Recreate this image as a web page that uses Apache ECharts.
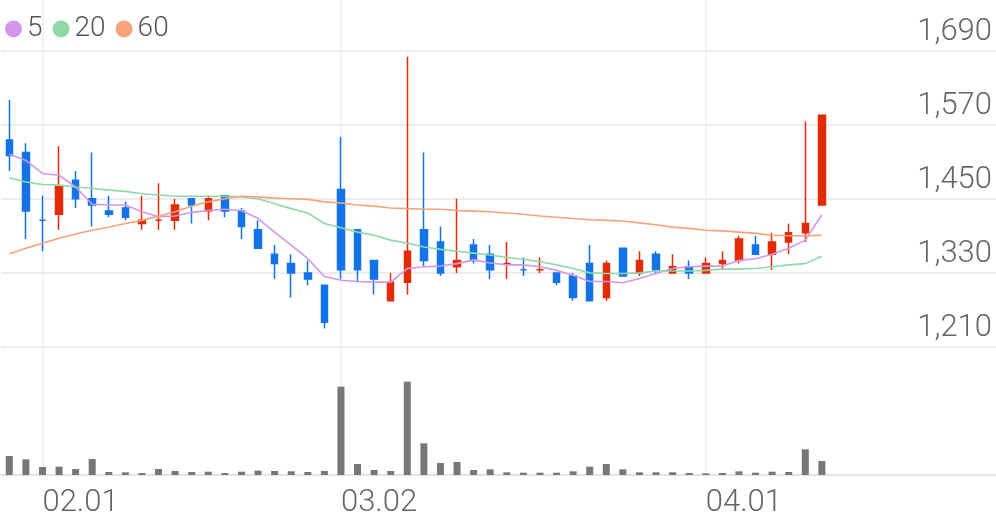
<!DOCTYPE html>
<html>
<head>
<meta charset="utf-8">
<script src="https://cdn.jsdelivr.net/npm/echarts@6/dist/echarts.min.js"></script>
<style>
html,body{margin:0;padding:0;background:#fff;}
#chart{width:996px;height:519px;}
</style>
</head>
<body>
<div id="chart"></div>
<script>
// Trading days (MM.DD); last 10 are empty future slots
const dates = ["01.28","01.29","02.01","02.02","02.03","02.04","02.05","02.08","02.09","02.10",
  "02.15","02.16","02.17","02.18","02.19","02.22","02.23","02.24","02.25","02.26",
  "03.02","03.03","03.04","03.05","03.08","03.09","03.10","03.11","03.12","03.15",
  "03.16","03.17","03.18","03.19","03.22","03.23","03.24","03.25","03.26","03.29",
  "03.30","03.31","04.01","04.02","04.05","04.06","04.07","04.08","04.09","04.12",
  "04.13","04.14","04.15","04.16","04.19","04.20","04.21","04.22","04.23","04.26"];

const opens  = [1545,1525,1415,1425,1480,1450,1430,1435,1410,1415,1415,1450,1430,1455,1430,1400,1360,1345,1330,1310,
                1465,1400,1350,1285,1315,1400,1380,1340,1375,1360,1345,1335,1335,1330,1325,1345,1290,1370,1330,1360,
                1330,1340,1330,1345,1350,1375,1360,1380,1395,1440];
const closes = [1520,1430,1415,1470,1450,1440,1425,1420,1415,1415,1440,1440,1450,1430,1405,1370,1345,1330,1320,1250,
                1335,1335,1320,1315,1365,1350,1330,1350,1350,1335,1345,1335,1335,1315,1290,1285,1345,1325,1350,1335,
                1340,1330,1345,1350,1385,1360,1380,1395,1410,1585];
const lows   = [1495,1385,1365,1400,1435,1405,1420,1415,1400,1400,1400,1410,1415,1420,1385,1370,1320,1290,1310,1240,
                1320,1315,1295,1285,1295,1340,1325,1330,1345,1320,1320,1325,1330,1310,1285,1285,1285,1325,1325,1330,
                1330,1320,1330,1335,1345,1360,1335,1360,1380,1440];
const highs  = [1610,1540,1455,1535,1495,1525,1455,1445,1455,1475,1450,1450,1455,1455,1435,1415,1375,1360,1350,1310,
                1550,1400,1350,1330,1680,1525,1405,1450,1385,1375,1380,1355,1355,1330,1330,1375,1350,1370,1365,1365,
                1360,1350,1355,1365,1390,1390,1395,1410,1575,1585];

const ma5  = [1522,1512,1491,1488,1469,1441,1440,1440,1429,1421,1422,1428,1431,1433,1431,1418,1396,1375,1353,1324,
              1318,1316,1315,1315,1337,1340,1341,1345,1351,1346,1343,1343,1340,1334,1326,1316,1316,1314,1321,1329,
              1337,1340,1341,1341,1350,1353,1360,1370,1383,1424];
const ma20 = [1484,1477,1473,1472,1469,1467,1464,1462,1458,1456,1454,1454,1454,1454,1453,1450,1442,1434,1427,1410,
              1403,1396,1391,1383,1378,1372,1368,1365,1362,1359,1355,1352,1348,1343,1337,1330,1329,1329,1330,1333,
              1333,1333,1334,1336,1336,1337,1340,1343,1345,1357];
const ma60 = [1361,1370,1378,1386,1393,1399,1404,1410,1415,1422,1429,1438,1445,1450,1454,1453,1451,1450,1449,1445,
              1443,1440,1438,1435,1434,1433,1433,1431,1430,1429,1427,1425,1422,1420,1418,1416,1415,1414,1411,1408,
              1404,1402,1399,1398,1396,1394,1391,1390,1390,1391];

const volumes = [190000,157000,80000,83000,60000,160000,30000,27000,20000,60000,40000,30000,33000,20000,33000,43000,40000,37000,30000,40000,
                 883000,110000,50000,40000,933000,317000,120000,130000,50000,57000,27000,23000,23000,23000,37000,83000,110000,57000,27000,27000,
                 27000,20000,17000,20000,37000,23000,33000,30000,257000,140000];

const priceTicks = [1210, 1330, 1450, 1570, 1690];

const candleData = opens.map((o, i) => [o, closes[i], lows[i], highs[i]]);

const RED = '#e32b08', BLUE = '#1274e8';
const FONT = 'Roboto, "Noto Sans", sans-serif';

function monthStart(idx) {
  return idx > 0 && dates[idx].slice(0, 2) !== dates[idx - 1].slice(0, 2);
}

const SLOT = 995 / dates.length;

const chart = echarts.init(document.getElementById('chart'), null, { renderer: 'canvas' });
chart.setOption({
  animation: false,
  backgroundColor: '#ffffff',
  legend: {
    left: 0, top: 10,
    icon: 'circle', itemWidth: 17, itemHeight: 17, itemGap: 10,
    data: ['5', '20', '60'],
    textStyle: { fontSize: 28, color: '#555', fontFamily: FONT, fontWeight: 300 }
  },
  grid: [
    { left: 1 + SLOT / 2, right: SLOT / 2, top: 0, height: 475 },
    { left: 1, right: 0, top: 50.5, height: 296.5 },
    { left: 1, right: 0, top: 355, height: 120 }
  ],
  xAxis: [
    {
      type: 'category', gridIndex: 0, data: dates, boundaryGap: false,
      axisLine: { show: false },
      axisTick: { show: false },
      axisLabel: {
        interval: monthStart, align: 'left', margin: 13,
        fontSize: 31, color: '#666', fontFamily: FONT, fontWeight: 300
      },
      splitLine: { show: true, interval: monthStart, lineStyle: { color: '#efefef', width: 1.5 } }
    },
    {
      type: 'category', gridIndex: 1, data: dates, boundaryGap: true,
      axisLine: { show: false }, axisTick: { show: false }, axisLabel: { show: false }, splitLine: { show: false }
    },
    {
      type: 'category', gridIndex: 2, data: dates, boundaryGap: true,
      axisLine: { show: true, lineStyle: { color: '#e4e4e4', width: 2 } },
      axisTick: { show: false }, axisLabel: { show: false }, splitLine: { show: false }
    }
  ],
  yAxis: [
    { type: 'value', gridIndex: 0, min: 0, max: 1, show: false },
    {
      type: 'value', gridIndex: 1, position: 'right',
      min: priceTicks[0], max: priceTicks[priceTicks.length - 1], interval: 120,
      axisLine: { show: false }, axisTick: { show: false },
      axisLabel: {
        inside: true, align: 'right', verticalAlign: 'bottom', margin: 4,
        padding: [0, 0, 3, 0],
        fontSize: 31, color: '#666', fontFamily: FONT, fontWeight: 300,
        formatter: v => v.toLocaleString('en-US')
      },
      splitLine: { show: true, lineStyle: { color: '#ececec', width: 2 } }
    },
    {
      type: 'value', gridIndex: 2, min: 0, max: 1200000, show: false
    }
  ],
  series: [
    {
      name: 'candle', type: 'candlestick', xAxisIndex: 1, yAxisIndex: 1,
      data: candleData, barWidth: 7,
      itemStyle: { color: RED, color0: BLUE, borderColor: RED, borderColor0: BLUE, borderWidth: 1.5 }
    },
    {
      name: '5', type: 'line', xAxisIndex: 1, yAxisIndex: 1, data: ma5,
      showSymbol: false, symbol: 'circle', color: '#d396ea',
      lineStyle: { width: 1.6, color: '#d396ea' }, z: 3
    },
    {
      name: '20', type: 'line', xAxisIndex: 1, yAxisIndex: 1, data: ma20,
      showSymbol: false, symbol: 'circle', color: '#8ed9a6',
      lineStyle: { width: 1.6, color: '#8ed9a6' }, z: 3
    },
    {
      name: '60', type: 'line', xAxisIndex: 1, yAxisIndex: 1, data: ma60,
      showSymbol: false, symbol: 'circle', color: '#f6a27b',
      lineStyle: { width: 1.6, color: '#f6a27b' }, z: 3
    },
    {
      name: 'volume', type: 'bar', xAxisIndex: 2, yAxisIndex: 2, data: volumes,
      barWidth: 7, itemStyle: { color: '#777777' }
    }
  ]
});
</script>
</body>
</html>
